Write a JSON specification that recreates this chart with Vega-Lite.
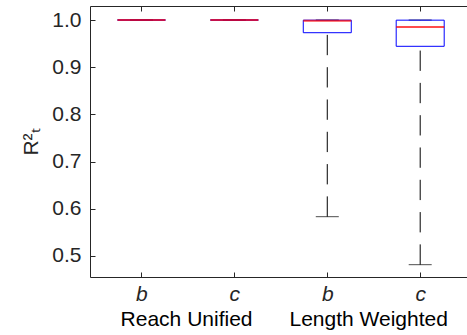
{
  "$schema": "https://vega.github.io/schema/vega-lite/v6.json",
  "width": 377,
  "height": 271,
  "autosize": {"type": "none"},
  "padding": {"left": 90, "top": 6, "right": 0, "bottom": 58},
  "background": "white",
  "config": {
    "view": {"stroke": null},
    "font": "Liberation Sans",
    "axis": {
      "grid": false,
      "domainColor": "#262626",
      "tickColor": "#262626",
      "labelColor": "#262626",
      "titleColor": "#262626",
      "domainWidth": 1,
      "tickWidth": 1,
      "labelFont": "Liberation Sans",
      "titleFont": "Liberation Sans"
    }
  },
  "data": {
    "values": [
      {"group": "Reach Unified", "method": "b", "pos": 1, "min": 1.0, "q1": 1.0, "median": 1.0, "q3": 1.0, "max": 1.0},
      {"group": "Reach Unified", "method": "c", "pos": 2, "min": 1.0, "q1": 1.0, "median": 1.0, "q3": 1.0, "max": 1.0},
      {"group": "Length Weighted", "method": "b", "pos": 3, "min": 0.5833, "q1": 0.9731, "median": 0.9983, "q3": 0.9997, "max": 1.0},
      {"group": "Length Weighted", "method": "c", "pos": 4, "min": 0.4816, "q1": 0.9443, "median": 0.9852, "q3": 0.9997, "max": 1.0}
    ]
  },
  "resolve": {"axis": {"x": "independent"}},
  "layer": [
    {
      "mark": {"type": "rule", "color": "black", "strokeWidth": 1, "strokeDash": [20.3, 12]},
      "encoding": {
        "x": {
          "field": "pos", "type": "quantitative",
          "scale": {"domain": [0.5, 4.45], "nice": false, "zero": false},
          "axis": {
            "orient": "bottom", "values": [1, 2, 3, 4],
            "labelExpr": "['', 'b', 'c', 'b', 'c'][datum.value]",
            "labelFontStyle": "italic", "labelFontSize": 21,
            "tickSize": -5, "labelPadding": 11, "labelFlush": false,
            "title": null
          }
        },
        "y": {
          "field": "min", "type": "quantitative",
          "scale": {"domain": [0.4555, 1.0297], "nice": false, "zero": false},
          "axis": {
            "values": [0.5, 0.6, 0.7, 0.8, 0.9, 1.0], "format": ".1f",
            "tickSize": -5, "labelPadding": 14, "labelFontSize": 21,
            "title": "R²ₜ", "titleFontSize": 21, "titleFontWeight": "normal",
            "titlePadding": 10
          }
        },
        "y2": {"field": "q1"}
      }
    },
    {
      "mark": {"type": "rule", "color": "black", "strokeWidth": 1, "strokeDash": [20.3, 12]},
      "encoding": {
        "x": {"field": "pos", "type": "quantitative", "axis": null},
        "y": {"field": "max", "type": "quantitative"},
        "y2": {"field": "q3"}
      }
    },
    {
      "mark": {"type": "tick", "orient": "horizontal", "color": "black", "size": 23, "thickness": 1},
      "encoding": {
        "x": {"field": "pos", "type": "quantitative", "axis": null},
        "y": {"field": "min", "type": "quantitative"}
      }
    },
    {
      "mark": {"type": "tick", "orient": "horizontal", "color": "black", "size": 23, "thickness": 1},
      "encoding": {
        "x": {"field": "pos", "type": "quantitative", "axis": null},
        "y": {"field": "max", "type": "quantitative"}
      }
    },
    {
      "mark": {"type": "bar", "filled": false, "color": "#0000ff", "strokeWidth": 1, "size": 48},
      "encoding": {
        "x": {
          "field": "pos", "type": "quantitative",
          "axis": {"orient": "top", "values": [1, 2, 3, 4], "labels": false, "tickSize": -5, "title": null}
        },
        "y": {"field": "q1", "type": "quantitative"},
        "y2": {"field": "q3"}
      }
    },
    {
      "mark": {"type": "tick", "orient": "horizontal", "color": "#ff0000", "size": 48, "thickness": 2},
      "encoding": {
        "x": {
          "field": "pos", "type": "quantitative",
          "axis": {
            "orient": "bottom", "values": [1.48, 3.44],
            "labelExpr": "datum.value < 2.5 ? 'Reach Unified' : 'Length Weighted'",
            "domain": false, "ticks": false, "tickSize": 0,
            "labelPadding": 31, "labelFontSize": 21, "labelColor": "#000000",
            "labelFlush": false, "labelOverlap": false, "title": null
          }
        },
        "y": {"field": "median", "type": "quantitative"}
      }
    }
  ]
}
